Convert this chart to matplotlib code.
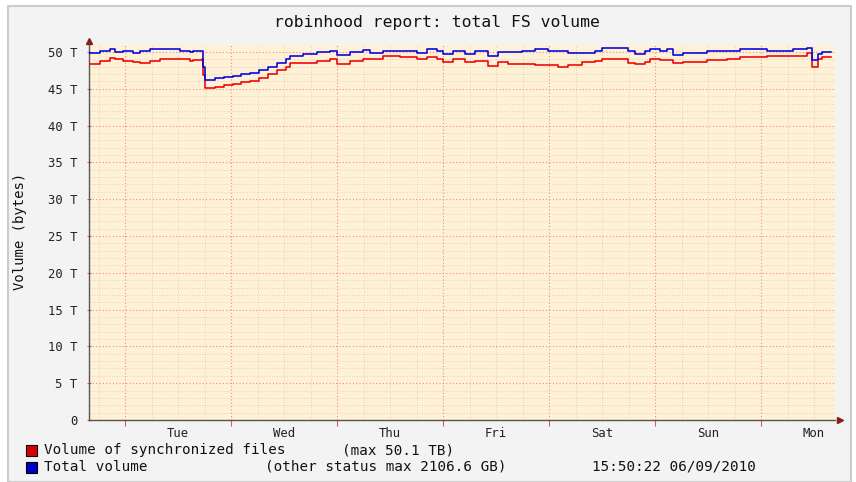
import datetime as dt
import matplotlib
matplotlib.use('Agg')
import matplotlib.pyplot as plt
import matplotlib.dates as mdates
from matplotlib.ticker import MultipleLocator, FuncFormatter, NullFormatter
from matplotlib.patches import Rectangle

# report ends Mon 06/09/2010 15:50:22, one week shown
start = dt.datetime(2010, 8, 30, 15, 50, 22)

# hours since start
hours = [0, 2.5, 4.8, 5.9, 7.7, 10.0, 11.5, 13.8, 16.1, 18.3, 20.6, 22.9, 23.5,
         25.6, 25.8, 26.3, 28.5, 30.5, 32.5, 34.5, 36.5, 38.5, 40.5, 42.5, 44.5,
         45.5, 48.5, 51.6, 54.6,
         56.2, 59.1, 62.0, 63.6, 66.6, 70.4, 74.3, 76.5, 78.8, 80.2, 82.4, 85.1,
         87.4, 90.3, 92.6, 94.9, 98.0, 101.0, 103.9, 106.2, 108.5, 111.6, 114.6,
         116.2, 119.1, 122.0, 123.6, 125.9, 127.0, 129.3, 130.9, 132.2, 134.5,
         136.1, 139.9, 144.5, 147.4, 151.2, 153.5, 156.5, 159.4, 162.6, 163.7,
         165.1, 166.0, 168.0]

# volumes in TB
total_vol = [49.8, 50.2, 50.4, 50.0, 50.2, 49.9, 50.2, 50.4, 50.4, 50.4, 50.2, 50.0, 50.2,
             50.2, 48.0, 46.2, 46.4, 46.6, 46.8, 47.0, 47.2, 47.6, 48.0, 48.5, 49.0,
             49.4, 49.7, 50.0, 50.2,
             49.6, 50.0, 50.3, 49.9, 50.2, 50.2, 49.9, 50.4, 50.2, 49.7, 50.2, 49.7,
             50.1, 49.5, 50.0, 50.0, 50.2, 50.4, 50.2, 50.1, 49.9, 49.9, 50.2,
             50.6, 50.6, 50.2, 49.7, 50.2, 50.4, 50.1, 50.4, 49.6, 49.8,
             49.9, 50.2, 50.1, 50.4, 50.4, 50.2, 50.2, 50.4, 50.6, 48.9,
             49.7, 50.0, 50.0]
sync_vol = [48.4, 48.8, 49.2, 49.0, 48.8, 48.6, 48.5, 48.8, 49.0, 49.0, 49.0, 48.8, 48.9,
            49.1, 46.9, 45.1, 45.3, 45.5, 45.7, 45.9, 46.1, 46.5, 47.0, 47.5, 48.0,
            48.5, 48.5, 48.8, 49.0,
            48.4, 48.8, 49.0, 49.1, 49.5, 49.3, 49.0, 49.3, 49.0, 48.7, 49.0, 48.7,
            48.8, 48.1, 48.6, 48.4, 48.4, 48.2, 48.2, 47.9, 48.2, 48.6, 48.8,
            49.1, 49.1, 48.5, 48.4, 48.6, 49.0, 48.9, 48.9, 48.5, 48.7,
            48.7, 48.9, 49.0, 49.3, 49.3, 49.4, 49.4, 49.4, 49.9, 48.0,
            49.0, 49.3, 49.3]

y_ticks = [0, 5, 10, 15, 20, 25, 30, 35, 40, 45, 50]
y_labels = ['0'] + ['%d T' % v for v in y_ticks[1:]]

W, H = 856, 482
mono = 'DejaVu Sans Mono'
plt.rcParams['font.family'] = mono

def fx(px):
    return px / W

def fy(py):
    return 1 - py / H

fig = plt.figure(figsize=(W / 100, H / 100), dpi=100)
fig.patch.set_facecolor('white')
fig.patches.append(Rectangle((fx(8), 0), fx(843), 1 - 6 / H, transform=fig.transFigure,
                             facecolor='#f3f3f3', edgecolor='#cccccc', lw=1.5, zorder=-5))

ax = fig.add_axes([fx(89), fy(420), fx(835 - 89), (420 - 45) / H])
ax.set_facecolor('#fff1d6')

t = [start + dt.timedelta(hours=h) for h in hours]
ax.step(t, sync_vol, where='post', color='#ee0000', lw=1.15, zorder=3)
ax.step(t, total_vol, where='post', color='#0000e6', lw=1.15, zorder=3)

ax.set_ylim(0, 375 / 7.36)
ax.set_xlim(start, start + dt.timedelta(hours=(835 - 89) * 24 / 106))

ax.set_yticks(y_ticks)
ax.set_yticklabels(y_labels)
ax.yaxis.set_minor_locator(MultipleLocator(1))
ax.xaxis.set_major_locator(mdates.HourLocator(byhour=[0]))
ax.xaxis.set_minor_locator(mdates.HourLocator(byhour=[0, 6, 12, 18]))
ax.xaxis.set_major_formatter(NullFormatter())

def day_name(x, pos):
    d = mdates.num2date(x)
    return d.strftime('%a') if d.hour == 12 else ''

ax.xaxis.set_minor_formatter(FuncFormatter(day_name))

ax.grid(which='minor', color='#dcc8b8', linestyle=(0, (1, 2)), lw=0.6, zorder=1)
ax.grid(which='major', color='#ef8a8a', linestyle=(0, (1, 2)), lw=0.8, zorder=2)
ax.set_axisbelow(True)

ax.tick_params(axis='x', which='major', length=4, direction='out', color='#d06060', width=0.8)
ax.tick_params(axis='x', which='minor', length=0, labelsize=8.8, pad=5, labelcolor='#222222')
ax.tick_params(axis='y', which='major', length=3, direction='inout', color='#d06060',
               labelsize=8.8, pad=7, labelcolor='#222222')
ax.tick_params(axis='y', which='minor', length=0)

for s in ['top', 'right']:
    ax.spines[s].set_visible(False)
for s in ['left', 'bottom']:
    ax.spines[s].set_color('#555555')
    ax.spines[s].set_linewidth(1.0)

ax.plot([0], [1 + 4 / 375], marker='^', color='#8b1a1a', ms=5, transform=ax.transAxes, clip_on=False)
ax.plot([1 + 5 / 746], [0], marker='>', color='#8b1a1a', ms=5, transform=ax.transAxes, clip_on=False)

fig.text(fx(437), fy(22), 'robinhood report: total FS volume', ha='center', va='center',
         fontsize=11.8, color='#111111')
fig.text(fx(20), fy(231), 'Volume (bytes)', rotation=90, ha='center', va='center',
         fontsize=10, color='#111111')

# legend rows
fig.patches.append(Rectangle((fx(26), fy(456)), fx(11), 11 / H, transform=fig.transFigure,
                             facecolor='#dd0000', edgecolor='black', lw=0.8))
fig.patches.append(Rectangle((fx(26), fy(473)), fx(11), 11 / H, transform=fig.transFigure,
                             facecolor='#0000cc', edgecolor='black', lw=0.8))
leg = dict(fontsize=10.3, va='center', ha='left', color='#111111')
fig.text(fx(44), fy(450), 'Volume of synchronized files', **leg)
fig.text(fx(342), fy(450), '(max 50.1 TB)', **leg)
fig.text(fx(44), fy(467), 'Total volume', **leg)
fig.text(fx(265), fy(467), '(other status max 2106.6 GB)', **leg)
fig.text(fx(592), fy(467), '15:50:22 06/09/2010', **leg)

fig.savefig('out.png', dpi=100, facecolor=fig.get_facecolor())
